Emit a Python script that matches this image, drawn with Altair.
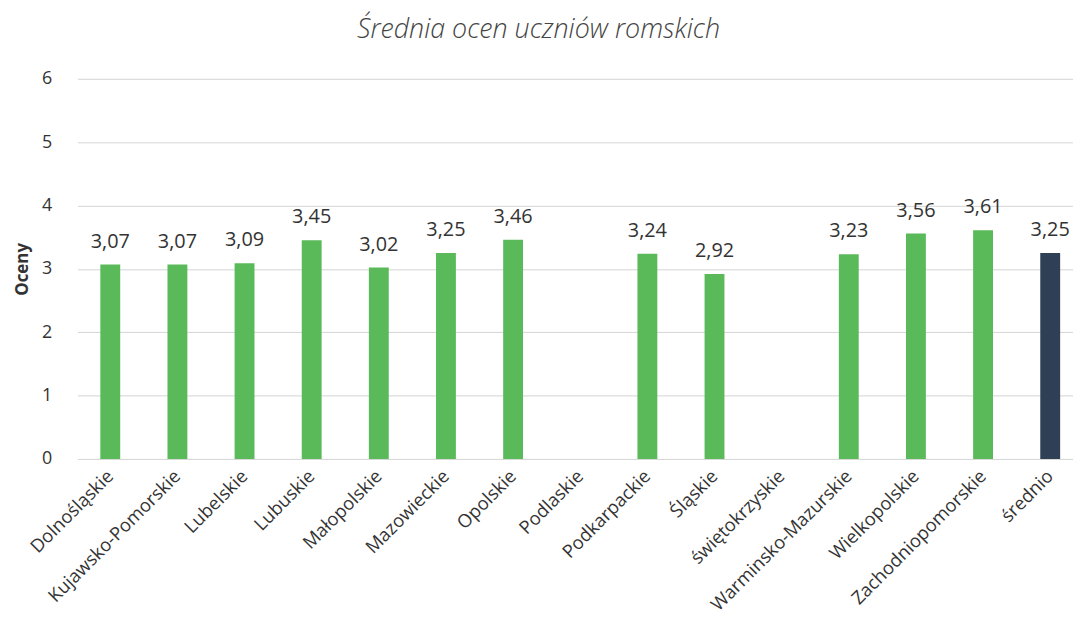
import altair as alt
import pandas as pd

categories = ["Dolnośląskie", "Kujawsko-Pomorskie", "Lubelskie", "Lubuskie", "Małopolskie",
              "Mazowieckie", "Opolskie", "Podlaskie", "Podkarpackie", "Śląskie",
              "świętokrzyskie", "Warminsko-Mazurskie", "Wielkopolskie", "Zachodniopomorskie", "średnio"]
values = [3.07, 3.07, 3.09, 3.45, 3.02, 3.25, 3.46, None, 3.24, 2.92, None, 3.23, 3.56, 3.61, 3.25]
kinds = ["woj"] * 14 + ["avg"]

df = pd.DataFrame({"kat": categories, "ocena": values, "typ": kinds})

x = alt.X("kat:N", sort=categories, title=None,
          scale=alt.Scale(paddingInner=0.704, paddingOuter=0.266, align=0.64, round=False),
          axis=alt.Axis(labelAngle=-45, labelAlign="right", labelBaseline="middle",
                        labelFont="Open Sans", labelFontSize=18.5, labelColor="#333333",
                        labelPadding=14, labelLimit=400, ticks=False, domain=False,
                        labelOverlap=False))
y = alt.Y("ocena:Q", title="Oceny",
          scale=alt.Scale(domain=[0, 6], nice=False),
          axis=alt.Axis(values=[0, 1, 2, 3, 4, 5, 6], format="d", ticks=False, domain=False,
                        labelFont="Open Sans", labelFontSize=18, labelColor="#333333", labelPadding=26,
                        titleFont="Open Sans", titleFontSize=17, titleFontWeight="bold",
                        titleColor="#333333", titlePadding=10,
                        gridColor="#d4d4d4", gridWidth=1))

bars = alt.Chart(df).mark_bar().encode(
    x=x, y=y,
    color=alt.Color("typ:N", scale=alt.Scale(domain=["woj", "avg"], range=["#5aba5a", "#2f3f56"]), legend=None),
)

labels = alt.Chart(df).transform_filter("isValid(datum.ocena)").transform_calculate(
    lab="replace(format(datum.ocena, '.2f'), '.', ',')"
).mark_text(font="Open Sans", fontSize=20, color="#333333", baseline="alphabetic", dy=-17).encode(
    x=alt.X("kat:N", sort=categories),
    y=alt.Y("ocena:Q"),
    text="lab:N",
)

chart = (bars + labels).properties(
    width=1003, height=383,
    autosize=alt.AutoSizeParams(type="none"),
    padding={"left": 70, "top": 69, "right": 0, "bottom": 165},
    title=alt.TitleParams("Średnia ocen uczniów romskich", font="Open Sans", fontSize=27,
                          fontStyle="italic", fontWeight=300, color="#444444",
                          anchor="middle", dx=-37, offset=26),
).configure_view(stroke=None)

chart.save("out.html", embed_options={"renderer": "svg", "actions": False})
